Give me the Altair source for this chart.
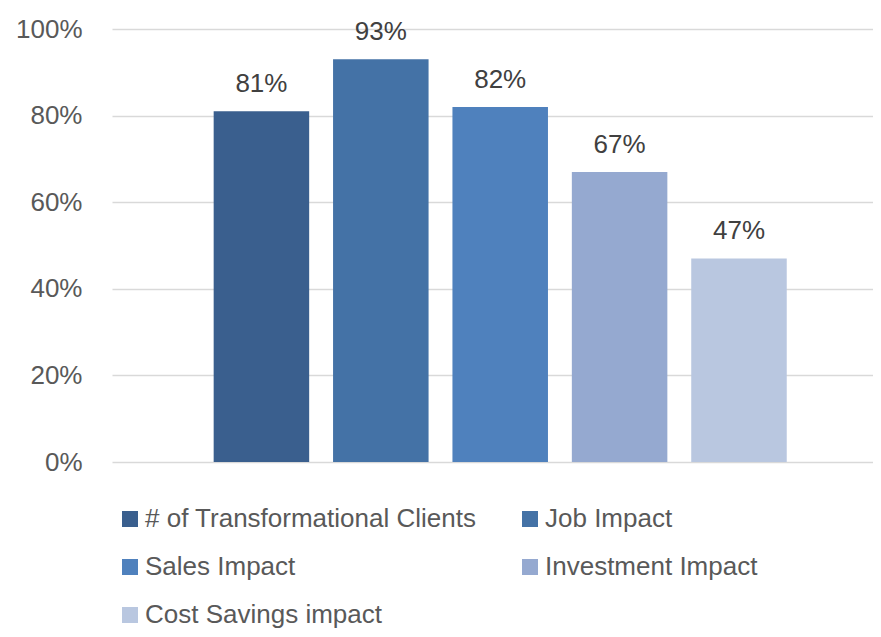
import altair as alt
import pandas as pd

series = ["# of Transformational Clients", "Job Impact", "Sales Impact",
          "Investment Impact", "Cost Savings impact"]
values = [0.81, 0.93, 0.82, 0.67, 0.47]
colors = ["#3A5F8E", "#4472A6", "#4F81BD", "#95A9D0", "#B9C7E0"]
y_ticks = [0, 0.2, 0.4, 0.6, 0.8, 1.0]

df = pd.DataFrame({"series": series, "value": values})

FONT = "Liberation Sans"
FS = 26

xscale = alt.Scale(paddingInner=0.2, paddingOuter=0.787, align=0.541)
y = alt.Y("value:Q", scale=alt.Scale(domain=[0, 1], nice=False),
          axis=alt.Axis(values=y_ticks, format=".0%", title=None, domain=False,
                        ticks=False, labelPadding=30, labelFontSize=26,
                        labelFont=FONT, labelColor="#595959",
                        gridColor="#D9D9D9", gridWidth=1.5))

bars = alt.Chart(df).mark_bar().encode(
    x=alt.X("series:N", sort=series, axis=None, scale=xscale),
    y=y,
    color=alt.Color("series:N", sort=series,
                    scale=alt.Scale(domain=series, range=colors),
                    legend=alt.Legend(title=None, orient="none", legendX=5, legendY=477,
                                      columns=2, direction="horizontal",
                                      symbolType="square", symbolSize=256,
                                      symbolStrokeWidth=0, symbolOpacity=1,
                                      labelFont=FONT, labelFontSize=FS,
                                      labelColor="#595959", labelLimit=500,
                                      columnPadding=40, rowPadding=22, labelOffset=2)),
)

labels = alt.Chart(df).mark_text(baseline="alphabetic", dy=-19, fontSize=26,
                                 font=FONT, color="#404040").encode(
    x=alt.X("series:N", sort=series, axis=None, scale=xscale),
    y=alt.Y("value:Q"),
    text=alt.Text("value:Q", format=".0%"),
)

chart = (bars + labels).properties(
    width=761, height=433,
    autosize=alt.AutoSizeParams(type="none"),
    padding={"left": 104, "top": 21, "right": 0, "bottom": 167},
).configure_view(stroke=None)

chart.save("out.html", embed_options={"renderer": "svg", "actions": False})
